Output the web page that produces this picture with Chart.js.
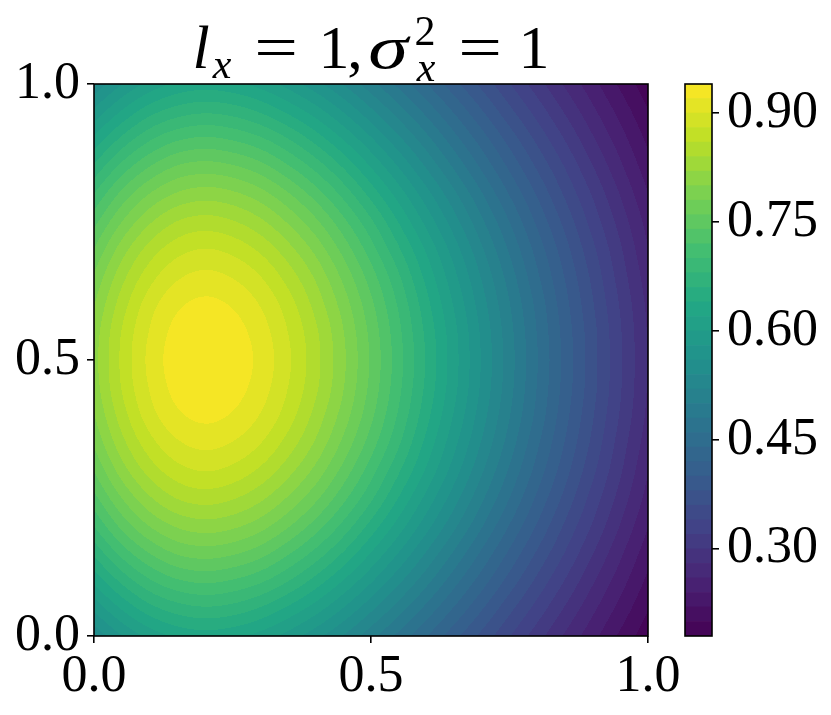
<!DOCTYPE html>
<html>
<head>
<meta charset="utf-8">
<script src="https://cdn.jsdelivr.net/npm/chart.js@4.4.1/dist/chart.umd.min.js"></script>
<style>
  html, body { margin: 0; padding: 0; background: #fff; }
  #wrap { position: relative; width: 831px; height: 715px; }
  #wrap canvas { position: absolute; left: 0; top: 0; }
</style>
</head>
<body>
<div id="wrap">
  <canvas id="field" width="831" height="715"></canvas>
  <canvas id="cbar" width="831" height="715"></canvas>
</div>
<script>
// sample grid
const xs = [0, 0.05, 0.1, 0.15, 0.2, 0.25, 0.3, 0.35, 0.4, 0.45, 0.5, 0.55, 0.6, 0.65, 0.7, 0.75, 0.8, 0.85, 0.9, 0.95, 1];
const ys = [0, 0.05, 0.1, 0.15, 0.2, 0.25, 0.3, 0.35, 0.4, 0.45, 0.5, 0.55, 0.6, 0.65, 0.7, 0.75, 0.8, 0.85, 0.9, 0.95, 1];

// z[i] is the row at ys[i]
const z = [
    [0.544, 0.579, 0.606, 0.624, 0.630, 0.625, 0.612, 0.592, 0.567, 0.539, 0.507, 0.474, 0.441, 0.407, 0.374, 0.341, 0.309, 0.277, 0.247, 0.216, 0.187],
    [0.585, 0.622, 0.652, 0.670, 0.677, 0.672, 0.658, 0.636, 0.610, 0.579, 0.545, 0.510, 0.474, 0.438, 0.402, 0.366, 0.332, 0.298, 0.265, 0.233, 0.201],
    [0.625, 0.665, 0.697, 0.717, 0.724, 0.718, 0.704, 0.681, 0.652, 0.619, 0.583, 0.545, 0.507, 0.468, 0.430, 0.392, 0.355, 0.319, 0.283, 0.249, 0.215],
    [0.664, 0.707, 0.740, 0.762, 0.769, 0.763, 0.748, 0.723, 0.693, 0.658, 0.619, 0.579, 0.538, 0.497, 0.456, 0.416, 0.377, 0.339, 0.301, 0.264, 0.228],
    [0.701, 0.746, 0.781, 0.803, 0.811, 0.805, 0.789, 0.763, 0.731, 0.694, 0.653, 0.611, 0.568, 0.525, 0.482, 0.439, 0.398, 0.357, 0.318, 0.279, 0.241],
    [0.733, 0.780, 0.817, 0.841, 0.849, 0.842, 0.825, 0.798, 0.765, 0.726, 0.684, 0.639, 0.594, 0.549, 0.504, 0.460, 0.416, 0.374, 0.332, 0.292, 0.252],
    [0.761, 0.810, 0.848, 0.872, 0.881, 0.874, 0.856, 0.828, 0.794, 0.753, 0.709, 0.663, 0.617, 0.570, 0.523, 0.477, 0.432, 0.388, 0.345, 0.303, 0.261],
    [0.783, 0.833, 0.872, 0.897, 0.906, 0.899, 0.881, 0.852, 0.817, 0.775, 0.730, 0.683, 0.634, 0.586, 0.538, 0.491, 0.444, 0.399, 0.355, 0.311, 0.269],
    [0.799, 0.850, 0.891, 0.916, 0.925, 0.918, 0.899, 0.870, 0.833, 0.791, 0.745, 0.697, 0.647, 0.598, 0.549, 0.501, 0.454, 0.407, 0.362, 0.318, 0.275],
    [0.809, 0.861, 0.901, 0.927, 0.936, 0.929, 0.910, 0.880, 0.844, 0.801, 0.754, 0.705, 0.655, 0.606, 0.556, 0.507, 0.459, 0.412, 0.367, 0.322, 0.278],
    [0.812, 0.864, 0.905, 0.931, 0.940, 0.933, 0.914, 0.884, 0.847, 0.804, 0.757, 0.708, 0.658, 0.608, 0.558, 0.509, 0.461, 0.414, 0.368, 0.323, 0.279],
    [0.809, 0.861, 0.901, 0.927, 0.936, 0.929, 0.910, 0.880, 0.844, 0.801, 0.754, 0.705, 0.655, 0.606, 0.556, 0.507, 0.459, 0.412, 0.367, 0.322, 0.278],
    [0.799, 0.850, 0.891, 0.916, 0.925, 0.918, 0.899, 0.870, 0.833, 0.791, 0.745, 0.697, 0.647, 0.598, 0.549, 0.501, 0.454, 0.407, 0.362, 0.318, 0.275],
    [0.783, 0.833, 0.872, 0.897, 0.906, 0.899, 0.881, 0.852, 0.817, 0.775, 0.730, 0.683, 0.634, 0.586, 0.538, 0.491, 0.444, 0.399, 0.355, 0.311, 0.269],
    [0.761, 0.810, 0.848, 0.872, 0.881, 0.874, 0.856, 0.828, 0.794, 0.753, 0.709, 0.663, 0.617, 0.570, 0.523, 0.477, 0.432, 0.388, 0.345, 0.303, 0.261],
    [0.733, 0.780, 0.817, 0.841, 0.849, 0.842, 0.825, 0.798, 0.765, 0.726, 0.684, 0.639, 0.594, 0.549, 0.504, 0.460, 0.416, 0.374, 0.332, 0.292, 0.252],
    [0.701, 0.746, 0.781, 0.803, 0.811, 0.805, 0.789, 0.763, 0.731, 0.694, 0.653, 0.611, 0.568, 0.525, 0.482, 0.439, 0.398, 0.357, 0.318, 0.279, 0.241],
    [0.664, 0.707, 0.740, 0.762, 0.769, 0.763, 0.748, 0.723, 0.693, 0.658, 0.619, 0.579, 0.538, 0.497, 0.456, 0.416, 0.377, 0.339, 0.301, 0.264, 0.228],
    [0.625, 0.665, 0.697, 0.717, 0.724, 0.718, 0.704, 0.681, 0.652, 0.619, 0.583, 0.545, 0.507, 0.468, 0.430, 0.392, 0.355, 0.319, 0.283, 0.249, 0.215],
    [0.585, 0.622, 0.652, 0.670, 0.677, 0.672, 0.658, 0.636, 0.610, 0.579, 0.545, 0.510, 0.474, 0.438, 0.402, 0.366, 0.332, 0.298, 0.265, 0.233, 0.201],
    [0.544, 0.579, 0.606, 0.624, 0.630, 0.625, 0.612, 0.592, 0.567, 0.539, 0.507, 0.474, 0.441, 0.407, 0.374, 0.341, 0.309, 0.277, 0.247, 0.216, 0.187]
];

// contour levels (as on the colorbar)
const levels = [0.18, 0.20, 0.22, 0.24, 0.26, 0.28, 0.30, 0.32, 0.34, 0.36, 0.38, 0.40, 0.42,
    0.44, 0.46, 0.48, 0.50, 0.52, 0.54, 0.56, 0.58, 0.60, 0.62, 0.64, 0.66, 0.68, 0.70,
    0.72, 0.74, 0.76, 0.78, 0.80, 0.82, 0.84, 0.86, 0.88, 0.90, 0.92, 0.94];

const axisTicks = [0, 0.5, 1];
const cbarTicks = [0.30, 0.45, 0.60, 0.75, 0.90];

const serif = '"Liberation Serif", "Times New Roman", serif';

// viridis, every 0.1
const viridisStops = [
    [68, 1, 84], [72, 36, 117], [65, 68, 135], [53, 95, 141], [42, 120, 142], [33, 145, 140],
    [34, 168, 132], [68, 191, 112], [122, 209, 81], [189, 223, 38], [253, 231, 37]
];

function viridis(t) {
    t = Math.max(0, Math.min(1, t));
    let s = t * 10;
    let i = Math.min(9, Math.floor(s));
    let f = s - i;
    let a = viridisStops[i], b = viridisStops[i + 1];
    return [0, 1, 2].map(k => Math.round(a[k] + (b[k] - a[k]) * f));
}

// colour of band k, like contourf: midpoint of the band on the level range
function bandColor(k) {
    let n = levels.length - 1;
    return viridis((k + 0.5) / n);
}

function zAt(r, c) {
    let nr = ys.length, nc = xs.length;
    if (r < 0) return 2 * zAt(0, c) - zAt(1, c);
    if (r >= nr) return 2 * zAt(nr - 1, c) - zAt(nr - 2, c);
    if (c < 0) return 2 * zAt(r, 0) - zAt(r, 1);
    if (c >= nc) return 2 * zAt(r, nc - 1) - zAt(r, nc - 2);
    return z[r][c];
}

function cubic(p0, p1, p2, p3, t) {
    return p1 + 0.5 * t * (p2 - p0 + t * (2 * p0 - 5 * p1 + 4 * p2 - p3 + t * (3 * (p1 - p2) + p3 - p0)));
}

function sample(xv, yv) {
    let fx = (xv - xs[0]) / (xs[1] - xs[0]);
    let fy = (yv - ys[0]) / (ys[1] - ys[0]);
    let c = Math.max(0, Math.min(xs.length - 2, Math.floor(fx)));
    let r = Math.max(0, Math.min(ys.length - 2, Math.floor(fy)));
    let tx = fx - c, ty = fy - r;
    let rows = [];
    for (let rr = r - 1; rr <= r + 2; rr++) {
        rows.push(cubic(zAt(rr, c - 1), zAt(rr, c), zAt(rr, c + 1), zAt(rr, c + 2), tx));
    }
    return cubic(rows[0], rows[1], rows[2], rows[3], ty);
}

const fieldPlugin = {
    id: 'field',
    beforeDatasetsDraw(chart) {
        const {ctx, chartArea: a, scales} = chart;
        const left = Math.round(a.left), top = Math.round(a.top);
        const w = Math.round(a.right) - left, h = Math.round(a.bottom) - top;
        const img = ctx.createImageData(w, h);
        const n = levels.length - 1;
        const lut = [];
        for (let k = 0; k < n; k++) lut.push(bandColor(k));
        for (let j = 0; j < h; j++) {
            let yv = scales.y.getValueForPixel(top + j + 0.5);
            for (let i = 0; i < w; i++) {
                let xv = scales.x.getValueForPixel(left + i + 0.5);
                let v = sample(xv, yv);
                let k = 0;
                while (k < n - 1 && v >= levels[k + 1]) k++;
                let col = lut[k];
                let o = (j * w + i) * 4;
                img.data[o] = col[0];
                img.data[o + 1] = col[1];
                img.data[o + 2] = col[2];
                img.data[o + 3] = 255;
            }
        }
        ctx.putImageData(img, left, top);
    }
};

const framePlugin = {
    id: 'frame',
    afterDraw(chart) {
        const {ctx, chartArea: a} = chart;
        ctx.save();
        ctx.strokeStyle = '#000';
        ctx.lineWidth = 1.6;
        ctx.strokeRect(a.left, a.top, a.right - a.left, a.bottom - a.top);
        ctx.restore();
    }
};

// title  l_x = 1, sigma_x^2 = 1
const titlePlugin = {
    id: 'mathTitle',
    afterDraw(chart) {
        const ctx = chart.ctx;
        const big = 62, small = 42;
        const R = `${big}px ${serif}`, I = `italic ${big}px ${serif}`;
        const sR = `${small}px ${serif}`, sI = `italic ${small}px ${serif}`;
        // [font, text, centre x, baseline, horizontal stretch]
        const parts = [
            [I, 'l', 201, 68, 1], [sI, 'x', 222, 78, 1], [R, '=', 276, 68, 1.25], [R, '1', 334, 68, 1],
            [R, ',', 355, 68, 1], [I, 'σ', 388, 68, 1.3], [sR, '2', 425, 45, 1], [sI, 'x', 426, 81, 1],
            [R, '=', 480, 68, 1.25], [R, '1', 534, 68, 1]
        ];
        ctx.save();
        ctx.fillStyle = '#000';
        ctx.textAlign = 'center';
        ctx.textBaseline = 'alphabetic';
        parts.forEach(p => {
            ctx.save();
            ctx.font = p[0];
            ctx.translate(p[2], p[3]);
            ctx.scale(p[4], 1);
            ctx.fillText(p[1], 0, 0);
            ctx.restore();
        });
        ctx.restore();
    }
};

const gridPoints = [];
ys.forEach((yv, r) => xs.forEach((xv, c) => gridPoints.push({x: xv, y: yv, v: z[r][c]})));

function axisOpts(isX) {
    return {
        type: 'linear',
        min: 0,
        max: 1,
        afterBuildTicks: s => { s.ticks = axisTicks.map(v => ({value: v})); },
        afterFit: s => {
            if (isX) s.height = 79; else s.width = 94;
        },
        ticks: {
            callback: v => v.toFixed(1),
            font: {family: serif, size: 52},
            color: '#000',
            padding: isX ? 3 : 7,
            maxRotation: 0,
            autoSkip: false
        },
        grid: {drawOnChartArea: false, tickLength: 7, color: '#000', lineWidth: 1.6},
        border: {display: false}
    };
}

new Chart(document.getElementById('field'), {
    type: 'scatter',
    data: {
        datasets: [{data: gridPoints, pointRadius: 0, pointHoverRadius: 0}]
    },
    options: {
        responsive: false,
        animation: false,
        events: [],
        layout: {padding: {left: 0, top: 84, right: 183, bottom: 0}},
        plugins: {legend: {display: false}, tooltip: {enabled: false}},
        scales: {x: axisOpts(true), y: axisOpts(false)}
    },
    plugins: [fieldPlugin, framePlugin, titlePlugin]
});

// colorbar: one floating bar per band
const bands = levels.slice(0, -1).map((lo, i) => {
    let c = bandColor(i);
    return {
        data: [[lo, levels[i + 1]]],
        backgroundColor: `rgb(${c[0]},${c[1]},${c[2]})`,
        borderWidth: 0,
        grouped: false,
        barPercentage: 1,
        categoryPercentage: 1
    };
});

new Chart(document.getElementById('cbar'), {
    type: 'bar',
    data: {labels: [''], datasets: bands},
    options: {
        responsive: false,
        animation: false,
        events: [],
        layout: {padding: {left: 685, top: 84, right: 0, bottom: 79}},
        plugins: {legend: {display: false}, tooltip: {enabled: false}},
        scales: {
            x: {display: false},
            y: {
                position: 'right',
                min: levels[0],
                max: levels[levels.length - 1],
                afterBuildTicks: s => { s.ticks = cbarTicks.map(v => ({value: v})); },
                afterFit: s => { s.width = 119; },
                ticks: {
                    callback: v => v.toFixed(2),
                    font: {family: serif, size: 52},
                    color: '#000',
                    padding: 8
                },
                grid: {drawOnChartArea: false, tickLength: 7, color: '#000', lineWidth: 1.6},
                border: {display: false}
            }
        }
    },
    plugins: [framePlugin]
});
</script>
</body>
</html>
